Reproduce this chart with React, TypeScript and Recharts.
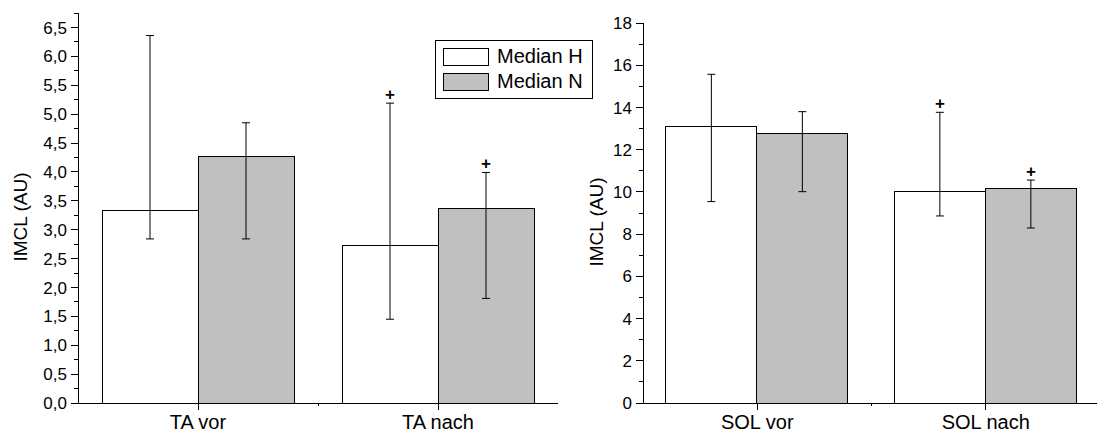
import React from 'react'
import { BarChart, Bar, XAxis, YAxis, ErrorBar, Legend } from 'recharts'

const FONT = '"Liberation Sans", Arial, Helvetica, sans-serif'
const GREY = '#c0c0c0'

// left panel: tibialis anterior
const taCats = ['TA vor', 'TA nach']
const taH = [3.34, 2.72]
const taHLow = [2.84, 1.45]
const taHHigh = [6.36, 5.19]
const taHPlus = [false, true]
const taN = [4.27, 3.37]
const taNLow = [2.84, 1.81]
const taNHigh = [4.85, 3.99]
const taNPlus = [false, true]
const taTicks = [
  0, 0.25, 0.5, 0.75, 1, 1.25, 1.5, 1.75, 2, 2.25, 2.5, 2.75, 3, 3.25,
  3.5, 3.75, 4, 4.25, 4.5, 4.75, 5, 5.25, 5.5, 5.75, 6, 6.25, 6.5, 6.75,
]

// right panel: soleus
const solCats = ['SOL vor', 'SOL nach']
const solH = [13.12, 10.01]
const solHLow = [9.54, 8.86]
const solHHigh = [15.57, 13.77]
const solHPlus = [false, true]
const solN = [12.78, 10.14]
const solNLow = [10.01, 8.29]
const solNHigh = [13.8, 10.56]
const solNPlus = [false, true]
const solTicks = [0, 1, 2, 3, 4, 5, 6, 7, 8, 9, 10, 11, 12, 13, 14, 15, 16, 17, 18]

function buildRows(
  cats: string[],
  h: number[], hLo: number[], hHi: number[], hPlus: boolean[],
  n: number[], nLo: number[], nHi: number[], nPlus: boolean[],
) {
  return cats.map((cat, i) => ({
    cat,
    h: h[i],
    hErr: [h[i] - hLo[i], hHi[i] - h[i]],
    hTop: hHi[i],
    hPlus: hPlus[i],
    n: n[i],
    nErr: [n[i] - nLo[i], nHi[i] - n[i]],
    nTop: nHi[i],
    nPlus: nPlus[i],
  }))
}

const taRows = buildRows(taCats, taH, taHLow, taHHigh, taHPlus, taN, taNLow, taNHigh, taNPlus)
const solRows = buildRows(solCats, solH, solHLow, solHHigh, solHPlus, solN, solNLow, solNHigh, solNPlus)

// bar with a "+" above the error bar when flagged
function makeShape(valKey: string, topKey: string, plusKey: string) {
  return (props: any) => {
    const { x, y, width, height, payload, fill } = props
    const unit = height / payload[valKey]
    const yTop = y + height - payload[topKey] * unit
    return (
      <g>
        <rect x={x} y={y} width={width} height={height} fill={fill} stroke="#000" strokeWidth={1} shapeRendering="crispEdges" />
        {payload[plusKey] ? (
          <text x={x + width / 2} y={yTop - 9} dy="0.35em" textAnchor="middle" fontSize={17} fontWeight="bold" fontFamily={FONT} fill="#000">
            +
          </text>
        ) : null}
      </g>
    )
  }
}

function makeYTick(isMajor: (v: number) => boolean, fmt: (v: number) => string) {
  return (props: any) => {
    const { x, y, payload } = props
    const v = payload.value
    const major = isMajor(v)
    return (
      <g>
        <line x1={x - (major ? 7 : 4)} x2={x} y1={y} y2={y} stroke="#000" shapeRendering="crispEdges" />
        {major ? (
          <text x={x - 11} y={y} dy="0.36em" textAnchor="end" fontSize={17} fontFamily={FONT} fill="#000">
            {fmt(v)}
          </text>
        ) : null}
      </g>
    )
  }
}

function XTick(props: any) {
  const { x, y, payload, index } = props
  const half = payload && payload.offset
  return (
    <g>
      <line x1={x} x2={x} y1={y} y2={y + 7} stroke="#000" shapeRendering="crispEdges" />
      {index === 0 && half ? (
        <line x1={x + half} x2={x + half} y1={y} y2={y + 3} stroke="#000" shapeRendering="crispEdges" />
      ) : null}
      <text x={x} y={y + 26} textAnchor="middle" fontSize={20} fontFamily={FONT} fill="#000">
        {payload.value}
      </text>
    </g>
  )
}

function yLabel(dx: number) {
  return (p: any) => {
    const vb = p.viewBox
    const cx = vb.x + dx
    const cy = vb.y + vb.height / 2 + 9
    return (
      <text x={cx} y={cy} transform={`rotate(-90, ${cx}, ${cy})`} textAnchor="middle" fontSize={19} fontFamily={FONT} fill="#000">
        IMCL (AU)
      </text>
    )
  }
}

function LegendBox({ payload }: any) {
  return (
    <div
      style={{
        boxSizing: 'border-box',
        width: 158,
        height: 59,
        border: '1px solid #000',
        background: '#fff',
        padding: '3px 0 0 7px',
        fontFamily: FONT,
        fontSize: 20,
        color: '#000',
      }}
    >
      {(payload || []).map((p: any) => (
        <div key={p.value} style={{ display: 'flex', alignItems: 'center', height: 25 }}>
          <span
            style={{
              display: 'inline-block',
              boxSizing: 'border-box',
              width: 46,
              height: 18,
              border: '1px solid #000',
              background: p.color,
              marginRight: 8,
            }}
          />
          <span>{p.value}</span>
        </div>
      ))}
    </div>
  )
}

const fmtComma = (v: number) => v.toFixed(1).replace('.', ',')
const axisLine = { stroke: '#000', shapeRendering: 'crispEdges' }

export default function App() {
  return (
    <div style={{ position: 'absolute', left: 0, top: 0, width: 1097, height: 434, overflow: 'hidden', background: '#fff' }}>
      <div style={{ position: 'absolute', left: 0, top: 0 }}>
        <BarChart
          width={600}
          height={434}
          data={taRows}
          margin={{ top: 13, right: 42, bottom: 0, left: 0 }}
          barCategoryGap="10%"
          barGap={0}
        >
          <XAxis dataKey="cat" height={31} interval={0} tickSize={0} tickMargin={0} tickLine={false} axisLine={axisLine} tick={XTick} />
          <YAxis
            type="number"
            domain={[0, 6.75]}
            ticks={taTicks}
            interval={0}
            width={78}
            tickSize={0}
            tickMargin={0}
            tickLine={false}
            axisLine={axisLine}
            tick={makeYTick((v) => Math.abs(v * 2 - Math.round(v * 2)) < 1e-6, fmtComma)}
            label={yLabel(27)}
          />
          <Legend layout="vertical" align="center" verticalAlign="middle" wrapperStyle={{ left: 435, top: 40, width: 158, height: 59 }} content={LegendBox} />
          <Bar dataKey="h" name="Median H" fill="#ffffff" isAnimationActive={false} shape={makeShape('h', 'hTop', 'hPlus')}>
            <ErrorBar dataKey="hErr" width={4} stroke="#000" strokeWidth={1} direction="y" isAnimationActive={false} />
          </Bar>
          <Bar dataKey="n" name="Median N" fill={GREY} isAnimationActive={false} shape={makeShape('n', 'nTop', 'nPlus')}>
            <ErrorBar dataKey="nErr" width={4} stroke="#000" strokeWidth={1} direction="y" isAnimationActive={false} />
          </Bar>
        </BarChart>
      </div>
      <div style={{ position: 'absolute', left: 560, top: 0 }}>
        <BarChart
          width={540}
          height={434}
          data={solRows}
          margin={{ top: 23, right: 0, bottom: 0, left: 0 }}
          barCategoryGap="10%"
          barGap={0}
        >
          <XAxis dataKey="cat" height={31} interval={0} tickSize={0} tickMargin={0} tickLine={false} axisLine={axisLine} tick={XTick} />
          <YAxis
            type="number"
            domain={[0, 18]}
            ticks={solTicks}
            interval={0}
            width={83}
            tickSize={0}
            tickMargin={0}
            tickLine={false}
            axisLine={axisLine}
            tick={makeYTick((v) => v % 2 === 0, (v) => String(v))}
            label={yLabel(43)}
          />
          <Bar dataKey="h" name="Median H" fill="#ffffff" isAnimationActive={false} shape={makeShape('h', 'hTop', 'hPlus')}>
            <ErrorBar dataKey="hErr" width={4} stroke="#000" strokeWidth={1} direction="y" isAnimationActive={false} />
          </Bar>
          <Bar dataKey="n" name="Median N" fill={GREY} isAnimationActive={false} shape={makeShape('n', 'nTop', 'nPlus')}>
            <ErrorBar dataKey="nErr" width={4} stroke="#000" strokeWidth={1} direction="y" isAnimationActive={false} />
          </Bar>
        </BarChart>
      </div>
    </div>
  )
}
